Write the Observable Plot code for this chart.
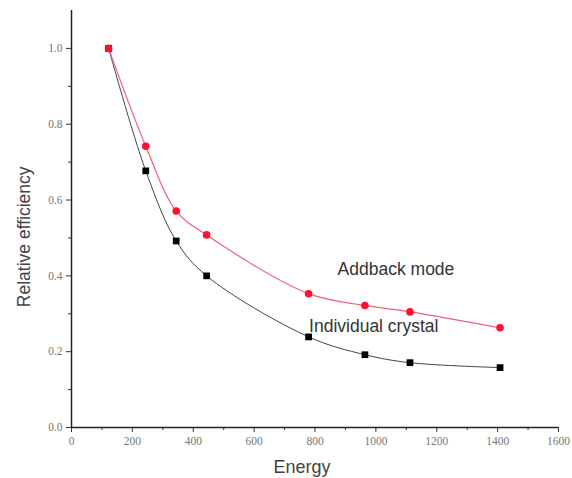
<!DOCTYPE html>
<html>
<head>
<meta charset="utf-8">
<script src="https://cdn.jsdelivr.net/npm/d3@7"></script>
<script src="https://cdn.jsdelivr.net/npm/@observablehq/plot@0.6"></script>
<style>
  html, body { margin: 0; padding: 0; background: #fff; }
  #chart svg { display: block; }
</style>
</head>
<body>
<div id="chart"></div>
<script>
const energies = [122, 244, 344, 444, 779, 964, 1112, 1408];
const individualCrystal = [1.0, 0.677, 0.492, 0.400, 0.239, 0.192, 0.171, 0.158];
const addbackMode = [1.0, 0.742, 0.571, 0.508, 0.353, 0.322, 0.305, 0.263];
const xTicks = [0, 200, 400, 600, 800, 1000, 1200, 1400, 1600];
const xMinorTicks = [100, 300, 500, 700, 900, 1100, 1300, 1500];
const yTicks = [0.0, 0.2, 0.4, 0.6, 0.8, 1.0];
const yMinorTicks = [0.1, 0.3, 0.5, 0.7, 0.9];
const annotations = [
  {label: "Addback mode", x: 1066, y: 0.418},
  {label: "Individual crystal", x: 993, y: 0.266}
];
const axisTitles = [
  {label: "Energy", x: 757, y: -0.105, rotate: 0},
  {label: "Relative efficiency", x: -155, y: 0.503, rotate: -90}
];

const indiv = energies.map((e, i) => ({energy: e, eff: individualCrystal[i]}));
const addb = energies.map((e, i) => ({energy: e, eff: addbackMode[i]}));

const serif = "'Liberation Serif', 'DejaVu Serif', serif";
const sans = "'Liberation Sans', Arial, sans-serif";

const chart = Plot.plot({
  width: 572,
  height: 478,
  marginLeft: 71,
  marginRight: 14,
  marginTop: 10,
  marginBottom: 51,
  style: {background: "#fff"},
  x: {domain: [0, 1600]},
  y: {domain: [0, 1.1]},
  marks: [
    Plot.axisX({ticks: xTicks, tickSize: 5, tickFormat: d3.format("d"), fontFamily: serif, fontSize: 11.5, color: "#777", stroke: "#333", tickPadding: 4, label: null}),
    Plot.axisX({ticks: xMinorTicks, tickSize: 3, tickFormat: () => "", stroke: "#333", label: null}),
    Plot.axisY({ticks: yTicks, tickSize: 5, tickFormat: d3.format(".1f"), fontFamily: serif, fontSize: 11.5, color: "#777", stroke: "#333", tickPadding: 4, label: null}),
    Plot.axisY({ticks: yMinorTicks, tickSize: 3, tickFormat: () => "", stroke: "#333", label: null}),
    Plot.ruleX([0], {stroke: "#222", strokeWidth: 1.5}),
    Plot.ruleY([0], {stroke: "#222", strokeWidth: 1.5}),
    Plot.text(axisTitles.slice(0, 1), {x: "x", y: "y", text: "label", fontFamily: sans, fontSize: 18, fill: "#444"}),
    Plot.text(axisTitles.slice(1), {x: "x", y: "y", text: "label", rotate: -90, fontFamily: sans, fontSize: 17.5, fill: "#444"}),
    Plot.line(indiv, {x: "energy", y: "eff", stroke: "#444", strokeWidth: 1, curve: "catmull-rom"}),
    Plot.line(addb, {x: "energy", y: "eff", stroke: "#f0607a", strokeWidth: 1.2, curve: "catmull-rom"}),
    Plot.dot(indiv, {x: "energy", y: "eff", symbol: "square", r: 3.8, fill: "#000", stroke: "none"}),
    Plot.dot(addb, {x: "energy", y: "eff", symbol: "circle", r: 3.8, fill: "#ff1030", stroke: "none"}),
    Plot.text(annotations, {x: "x", y: "y", text: "label", fontFamily: sans, fontSize: 17.5, fill: "#333"})
  ]
});
document.getElementById("chart").appendChild(chart);
</script>
</body>
</html>
